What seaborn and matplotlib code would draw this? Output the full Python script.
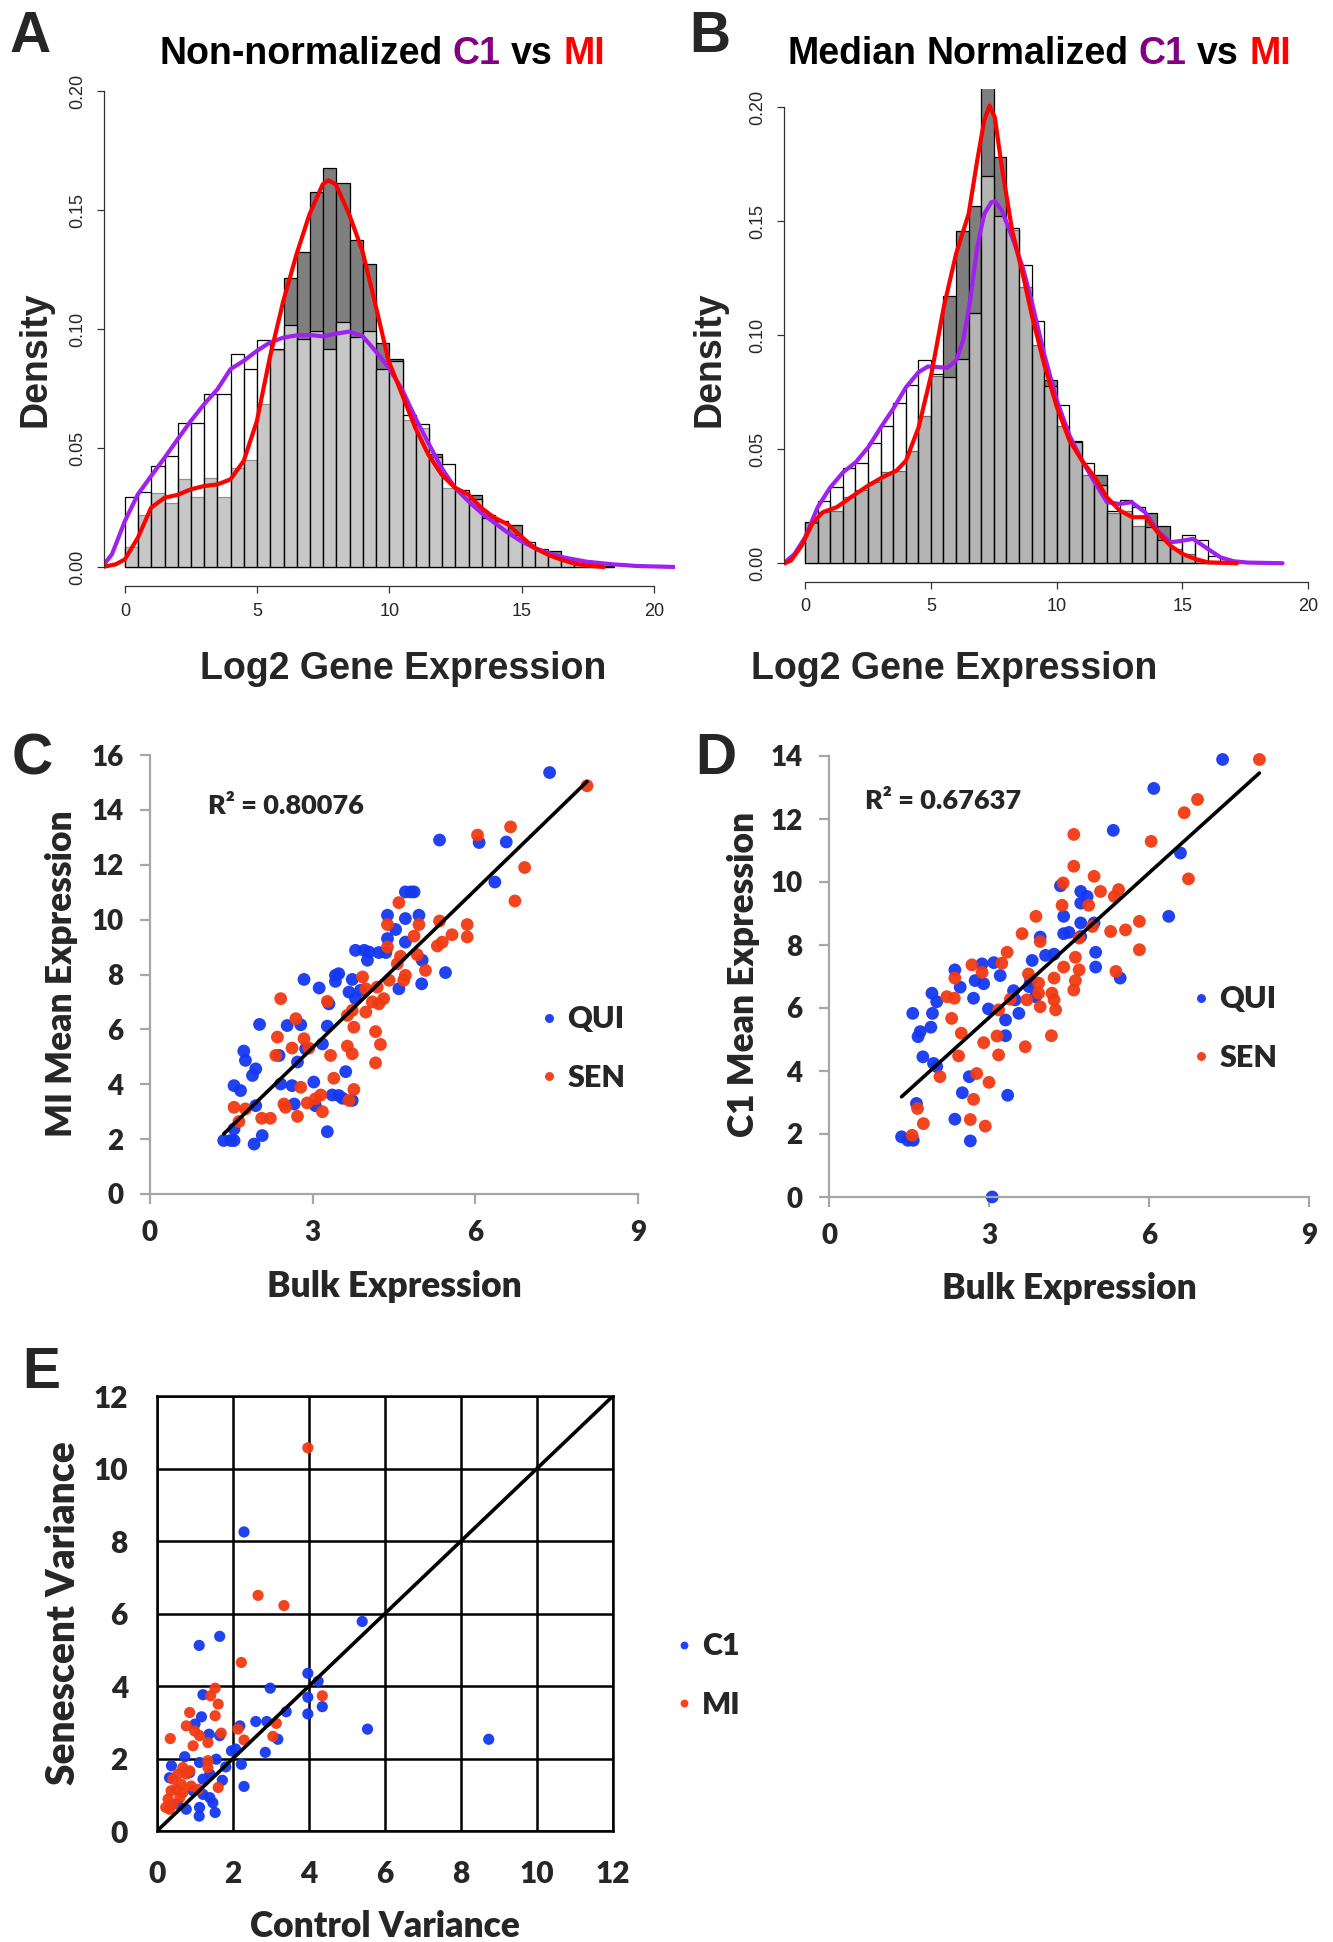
import numpy as np
import pandas as pd
import matplotlib
matplotlib.use("Agg")
import matplotlib.pyplot as plt
import seaborn as sns

# ---------------- data ----------------
BIN_W = 0.5

# Panel A: histogram densities per 0.5-wide bin starting at 0
a_c1_hist = [0.0296, 0.0317, 0.0423, 0.0466, 0.0605, 0.0605, 0.0725, 0.0728, 0.0895, 0.0832,
             0.0952, 0.0916, 0.1017, 0.0959, 0.0993, 0.0916, 0.1029, 0.0968, 0.0993, 0.0832,
             0.0866, 0.0640, 0.0602, 0.0462, 0.0434, 0.0322, 0.0284, 0.0207, 0.0193, 0.0133,
             0.0105, 0.0074, 0.0046, 0.0028, 0.0014, 0.0008, 0.0004]
a_mi_hist = [0.0084, 0.0217, 0.0312, 0.0270, 0.0368, 0.0294, 0.0375, 0.0296, 0.0417, 0.0450,
             0.0683, 0.0910, 0.1216, 0.1325, 0.1576, 0.1676, 0.1612, 0.1374, 0.1272, 0.0941,
             0.0873, 0.0616, 0.0585, 0.0473, 0.0333, 0.0317, 0.0303, 0.0218, 0.0189, 0.0178,
             0.0095, 0.0067, 0.0067, 0.0028, 0.0010, 0.0004, 0.0]

a_c1_kde_x = [-0.84, -0.49, 0.00, 0.49, 0.99, 1.50, 1.99, 2.49, 2.99, 3.50, 3.99, 4.49, 4.99,
              5.48, 5.99, 6.49, 6.98, 7.48, 7.97, 8.48, 8.98, 9.47, 9.97, 10.48, 10.98, 11.47,
              11.97, 12.48, 12.98, 13.47, 13.97, 14.48, 14.97, 15.47, 15.97, 16.46, 16.97,
              17.47, 18.46, 19.37, 20.77]
a_c1_kde_y = [0.0004, 0.0053, 0.0193, 0.0305, 0.0382, 0.0459, 0.0536, 0.0613, 0.0683, 0.0747,
              0.0831, 0.0866, 0.0908, 0.0943, 0.0964, 0.0973, 0.0975, 0.0969, 0.0980, 0.0989,
              0.0971, 0.0908, 0.0838, 0.0746, 0.0627, 0.0522, 0.0417, 0.0333, 0.0277, 0.0228,
              0.0186, 0.0144, 0.0109, 0.0081, 0.0060, 0.0043, 0.0032, 0.0022, 0.0011, 0.0004, 0.0]
a_mi_kde_x = [-0.84, -0.35, 0.00, 0.49, 0.99, 1.50, 1.99, 2.49, 2.99, 3.50, 3.99, 4.49, 4.99,
              5.48, 5.99, 6.49, 6.98, 7.48, 7.69, 7.97, 8.48, 8.98, 9.47, 9.97, 10.48, 10.98,
              11.47, 11.97, 12.48, 12.98, 13.47, 13.97, 14.48, 14.97, 15.47, 15.97, 16.46,
              16.97, 17.47, 18.11]
a_mi_kde_y = [0.0, 0.0011, 0.0032, 0.0123, 0.0249, 0.0291, 0.0303, 0.0326, 0.0340, 0.0347,
              0.0368, 0.0445, 0.0613, 0.0880, 0.1118, 0.1314, 0.1482, 0.1608, 0.1625, 0.1608,
              0.1482, 0.1328, 0.1104, 0.0866, 0.0725, 0.0585, 0.0473, 0.0389, 0.0333, 0.0305,
              0.0249, 0.0207, 0.0179, 0.0130, 0.0081, 0.0053, 0.0032, 0.0015, 0.0006, 0.0]

# Panel B
b_c1_hist = [0.0183, 0.0272, 0.0333, 0.0418, 0.0439, 0.0529, 0.0602, 0.0702, 0.0784, 0.0892,
             0.0830, 0.0816, 0.0896, 0.1096, 0.1700, 0.1522, 0.1470, 0.1308, 0.1064, 0.0779,
             0.0692, 0.0531, 0.0439, 0.0345, 0.0231, 0.0278, 0.0246, 0.0158, 0.0104, 0.0092,
             0.0126, 0.0104, 0.0030, 0.0009]
b_mi_hist = [0.0175, 0.0224, 0.0228, 0.0289, 0.0322, 0.0355, 0.0399, 0.0404, 0.0494, 0.0645,
             0.0820, 0.1174, 0.1459, 0.1569, 0.2150, 0.1781, 0.1460, 0.1211, 0.0959, 0.0804,
             0.0604, 0.0538, 0.0387, 0.0385, 0.0221, 0.0228, 0.0162, 0.0219, 0.0165, 0.0063,
             0.0041, 0.0012, 0.0004, 0.0]

b_c1_kde_x = [-0.81, -0.42, 0.00, 0.50, 1.00, 1.51, 2.01, 2.51, 3.01, 3.50, 4.01, 4.51, 4.88,
              5.30, 5.65, 6.00, 6.28, 6.56, 6.84, 7.12, 7.40, 7.54, 7.82, 8.23, 8.65, 9.00,
              9.50, 10.01, 10.51, 11.01, 11.51, 12.00, 12.51, 12.98, 13.51, 14.01, 14.52,
              15.00, 15.42, 16.01, 16.51, 17.03, 17.59, 18.98]
b_c1_kde_y = [0.0003, 0.0041, 0.0114, 0.0246, 0.0333, 0.0399, 0.0443, 0.0509, 0.0596, 0.0677,
              0.0772, 0.0838, 0.0863, 0.0860, 0.0857, 0.0889, 0.0977, 0.1152, 0.1386, 0.1532,
              0.1583, 0.1588, 0.1547, 0.1430, 0.1298, 0.1152, 0.0918, 0.0713, 0.0560, 0.0450,
              0.0355, 0.0268, 0.0260, 0.0268, 0.0224, 0.0143, 0.0092, 0.0099, 0.0107, 0.0063,
              0.0026, 0.0009, 0.0003, 0.0]
b_mi_kde_x = [-0.81, -0.56, -0.14, 0.28, 0.70, 1.26, 1.81, 2.51, 3.07, 3.63, 4.01, 4.51, 5.02,
              5.51, 6.00, 6.50, 6.84, 7.12, 7.33, 7.54, 7.82, 8.23, 8.65, 9.00, 9.50, 10.01,
              10.51, 11.01, 11.51, 12.00, 12.51, 13.01, 13.54, 14.01, 14.52, 15.00, 15.51,
              16.01, 17.17]
b_mi_kde_y = [0.0, 0.0012, 0.0077, 0.0173, 0.0224, 0.0246, 0.0289, 0.0341, 0.0377, 0.0406,
              0.0450, 0.0596, 0.0830, 0.1123, 0.1357, 0.1532, 0.1766, 0.1942, 0.2007, 0.1956,
              0.1737, 0.1459, 0.1269, 0.1094, 0.0874, 0.0684, 0.0538, 0.0450, 0.0377, 0.0289,
              0.0231, 0.0202, 0.0202, 0.0136, 0.0077, 0.0041, 0.0019, 0.0004, 0.0]

# Panel C: bulk vs MI mean expression
c_qui_x = [7.37, 5.34, 6.07, 6.57, 6.36, 4.71, 4.81, 4.87, 4.38, 4.71, 4.96, 4.53, 4.38, 4.71,
           3.79, 3.95, 4.04, 4.22, 4.35, 4.01, 5.02, 5.45, 2.84, 3.12, 3.42, 3.48, 3.42, 3.73,
           3.88, 3.67, 3.79, 4.59, 5.01, 3.30, 2.53, 2.78, 3.27, 2.02, 1.73, 1.76, 2.38, 1.95,
           1.89, 2.72, 2.87, 3.18, 3.61, 1.55, 1.67, 2.41, 2.62, 3.02, 1.95, 2.66, 3.05, 3.36,
           3.55, 3.27, 1.55, 1.36, 1.49, 1.55, 1.92, 2.07, 3.73, 3.48]
c_qui_y = [15.36, 12.90, 12.81, 12.83, 11.37, 11.01, 11.01, 11.01, 10.16, 10.04, 10.16, 9.64,
           9.31, 9.18, 8.88, 8.88, 8.82, 8.80, 8.80, 8.52, 8.52, 8.07, 7.82, 7.51, 7.97, 8.03,
           7.75, 7.82, 7.42, 7.36, 7.12, 7.48, 7.66, 6.93, 6.14, 6.17, 6.12, 6.18, 5.21, 4.87,
           5.05, 4.56, 4.32, 4.81, 5.29, 5.47, 4.46, 3.95, 3.77, 4.01, 3.95, 4.08, 3.22, 3.28,
           3.22, 3.61, 3.49, 2.27, 2.37, 1.95, 1.95, 1.95, 1.82, 2.13, 3.41, 3.59]
c_sen_x = [8.06, 6.65, 6.04, 6.91, 6.73, 4.59, 4.38, 4.96, 5.34, 5.85, 5.85, 4.87, 5.57, 4.38,
           5.39, 5.30, 4.62, 4.93, 4.56, 5.08, 4.71, 4.68, 3.92, 3.98, 4.19, 4.41, 4.31, 4.10,
           4.22, 3.27, 2.41, 2.69, 3.73, 3.64, 3.76, 3.98, 4.16, 4.25, 4.16, 2.35, 2.84, 2.62,
           2.93, 2.32, 3.33, 3.64, 3.73, 3.39, 2.78, 3.76, 3.67, 2.47, 2.50, 2.90, 3.05, 3.15,
           3.18, 2.72, 2.22, 2.06, 1.76, 1.55, 1.64]
c_sen_y = [14.88, 13.38, 13.08, 11.90, 10.68, 10.62, 9.82, 9.82, 9.95, 9.82, 9.37, 9.40, 9.45,
           9.00, 9.18, 9.04, 8.66, 8.72, 8.39, 8.15, 7.97, 7.79, 7.91, 7.48, 7.54, 7.79, 7.12,
           7.00, 6.93, 7.02, 7.12, 6.39, 6.69, 6.51, 6.08, 6.63, 5.92, 5.45, 4.78, 5.72, 5.66,
           5.32, 5.32, 5.05, 5.05, 5.39, 5.11, 4.22, 3.89, 3.81, 3.41, 3.28, 3.16, 3.32, 3.47,
           3.61, 3.00, 2.83, 2.76, 2.76, 3.10, 3.16, 2.64]

# Panel D: bulk vs C1 mean expression
d_qui_x = [7.38, 6.09, 5.33, 6.59, 6.37, 4.34, 4.72, 4.84, 4.72, 4.40, 4.72, 4.97, 4.40, 4.50,
           4.72, 3.96, 5.00, 4.22, 4.06, 3.81, 5.00, 5.46, 3.09, 2.87, 2.36, 3.21, 2.74, 2.90,
           2.46, 1.93, 2.02, 2.71, 3.46, 3.75, 3.87, 3.56, 1.57, 1.94, 2.99, 3.31, 1.91, 1.71,
           1.67, 3.31, 1.76, 1.96, 2.02, 2.63, 2.50, 3.35, 1.64, 2.36, 2.65, 1.36, 1.48, 1.58,
           3.06, 3.78, 3.49]
d_qui_y = [13.89, 12.97, 11.64, 10.92, 8.91, 9.88, 9.70, 9.54, 9.33, 8.91, 8.70, 8.70, 8.36,
           8.40, 8.27, 8.25, 7.77, 7.71, 7.67, 7.51, 7.30, 6.95, 7.44, 7.40, 7.21, 7.03, 6.87,
           6.77, 6.66, 6.47, 6.20, 6.31, 6.55, 6.68, 6.36, 5.83, 5.83, 5.83, 5.97, 5.62, 5.39,
           5.25, 5.09, 5.12, 4.45, 4.24, 4.14, 3.82, 3.31, 3.23, 2.97, 2.47, 1.78, 1.91, 1.80,
           1.80, 0.0, 6.87, 6.26]
d_sen_x = [8.07, 6.91, 6.66, 6.04, 4.59, 4.59, 6.74, 4.97, 4.39, 5.09, 5.43, 5.35, 4.37, 4.87,
           3.88, 5.82, 5.28, 5.56, 5.82, 3.62, 3.96, 4.94, 4.69, 3.34, 3.24, 2.68, 2.87, 4.62,
           4.40, 4.69, 5.38, 4.62, 4.59, 4.22, 3.74, 3.93, 2.36, 2.21, 2.35, 3.40, 3.71, 3.93,
           3.96, 4.18, 4.22, 4.25, 3.18, 2.30, 2.48, 3.15, 2.90, 3.68, 4.17, 3.18, 2.43, 2.08,
           2.77, 3.00, 2.71, 1.66, 1.77, 2.65, 2.93, 1.56]
d_sen_y = [13.89, 12.62, 12.20, 11.29, 11.51, 10.50, 10.10, 10.18, 9.97, 9.70, 9.76, 9.54, 9.26,
           9.26, 8.91, 8.75, 8.43, 8.48, 7.85, 8.36, 8.11, 8.59, 8.22, 7.77, 7.42, 7.37, 7.13,
           7.61, 7.30, 7.21, 7.16, 6.87, 6.57, 6.95, 7.08, 6.79, 6.95, 6.36, 6.31, 6.28, 6.26,
           6.47, 6.04, 6.47, 6.26, 5.94, 5.94, 5.67, 5.20, 5.11, 4.90, 4.77, 5.12, 4.51, 4.48,
           3.82, 3.92, 3.64, 3.10, 2.81, 2.33, 2.46, 2.25, 1.96]

# Panel E: control vs senescent variance
e_c1_x = [2.29, 5.40, 1.11, 1.65, 3.97, 4.24, 3.97, 4.35, 3.97, 3.40, 2.98, 2.60, 2.89, 3.18,
          2.85, 5.54, 8.73, 2.18, 1.96, 2.07, 2.22, 2.29, 1.81, 1.65, 1.37, 1.21, 1.17, 1.00,
          0.73, 1.12, 1.56, 0.38, 0.33, 0.86, 1.39, 1.72, 1.21, 1.39, 1.47, 1.12, 1.11, 0.77,
          1.53, 0.55, 0.95, 1.21]
e_c1_y = [8.25, 5.78, 5.12, 5.37, 4.35, 4.13, 3.69, 3.43, 3.23, 3.29, 3.94, 3.02, 3.02, 2.53,
          2.17, 2.81, 2.53, 2.90, 2.21, 2.26, 1.84, 1.23, 1.77, 2.63, 2.67, 3.76, 3.15, 2.95,
          2.05, 1.89, 1.98, 1.80, 1.47, 1.61, 1.57, 1.40, 1.43, 0.92, 0.78, 0.65, 0.41, 0.60,
          0.51, 0.74, 1.11, 1.01]
e_mi_x = [3.97, 2.66, 3.34, 2.22, 1.53, 1.41, 1.61, 1.53, 0.86, 0.77, 0.99, 1.12, 1.69, 1.34,
          0.95, 0.35, 2.13, 2.29, 3.14, 3.05, 4.35, 1.34, 1.34, 0.68, 0.55, 0.77, 0.42, 0.86,
          0.90, 1.08, 1.61, 0.51, 0.37, 0.68, 0.29, 0.60, 0.23, 0.33, 0.64, 0.42]
e_mi_y = [10.57, 6.50, 6.22, 4.65, 3.94, 3.73, 3.50, 3.18, 3.27, 2.90, 2.76, 2.63, 2.70, 2.44,
          2.35, 2.55, 2.81, 2.51, 2.97, 2.61, 3.73, 1.94, 1.75, 1.75, 1.57, 1.57, 1.43, 1.66,
          1.24, 1.15, 1.20, 1.15, 1.11, 1.06, 0.88, 0.92, 0.65, 0.60, 1.29, 0.74]

r2_c = "R\u00b2 = 0.80076"
r2_d = "R\u00b2 = 0.67637"

# ---------------- styling ----------------
BLUE = "#1438F0"
RED = "#F23A12"
PURPLE_LINE = "#A020F0"
PURPLE_TXT = "#820082"
GREY_AX = "#A6A6A6"
R_FONT = ["Liberation Sans", "DejaVu Sans"]
X_FONT = ["Lato", "DejaVu Sans"]
X_WEIGHT = "heavy"

sns.set_style("white")
plt.rcParams["font.family"] = R_FONT

W, H = 1333, 1942
fig = plt.figure(figsize=(W / 100, H / 100), dpi=100)


def px_axes(left, right, bottom, top):
    return fig.add_axes([left / W, 1 - bottom / H, (right - left) / W, (bottom - top) / H])


def ftext(x, y, s, **kw):
    return fig.text(x / W, 1 - y / H, s, **kw)


renderer = fig.canvas.get_renderer()


def text_width(s, **kw):
    t = fig.text(0, 0, s, **kw)
    w = t.get_window_extent(renderer).width
    t.remove()
    return w


def colored_title(cx, y, words, colors, **kw):
    full = " ".join(words)
    x0 = cx - text_width(full, **kw) / 2
    for k, (w, c) in enumerate(zip(words, colors)):
        off = 0 if k == 0 else text_width(" ".join(words[:k]) + " " + w, **kw) - text_width(w, **kw)
        ftext(x0 + off, y, w, color=c, ha="left", va="baseline", **kw)


def hist_panel(ax, c1, mi, kx1, ky1, kx2, ky2, light_alpha, xlim):
    edges = (np.arange(len(c1) + 1) * BIN_W).tolist()
    bins = pd.DataFrame({"mid": np.array(edges[:-1]) + BIN_W / 2, "c1": c1, "mi": mi})
    sns.histplot(data=bins, x="mid", weights="mi", bins=edges, stat="count", color="#7f7f7f",
                 alpha=1, edgecolor="black", linewidth=0.9, ax=ax)
    sns.histplot(data=bins, x="mid", weights="c1", bins=edges, stat="count", color="white",
                 alpha=light_alpha, edgecolor="black", linewidth=0.9, ax=ax)
    sns.lineplot(x=kx1, y=ky1, color=PURPLE_LINE, lw=3, sort=False, estimator=None, ax=ax)
    sns.lineplot(x=kx2, y=ky2, color="red", lw=3, sort=False, estimator=None, ax=ax)
    ax.set_xlim(*xlim)
    ax.set_ylim(-0.008, 0.208)
    ax.set_xlabel("")
    ax.set_ylabel("")
    for s in ["top", "right"]:
        ax.spines[s].set_visible(False)
    for s in ["left", "bottom"]:
        ax.spines[s].set_color("#333333")
        ax.spines[s].set_linewidth(0.9)
    ax.spines["left"].set_bounds(0, 0.2)
    ax.spines["bottom"].set_bounds(0, 20)
    ax.set_xticks([0, 5, 10, 15, 20])
    ax.set_yticks([0, 0.05, 0.10, 0.15, 0.20])
    ax.set_yticklabels(["0.00", "0.05", "0.10", "0.15", "0.20"])
    ax.tick_params(direction="out", length=5, width=0.9, color="#333333",
                   labelsize=13, pad=7, left=True, bottom=True)
    ax.tick_params(axis="y", labelrotation=90, pad=8)
    for lbl in ax.get_yticklabels():
        lbl.set_va("center")


def excel_axes(ax, xmax, ymax, ystep):
    ax.set_xlim(0, xmax)
    ax.set_ylim(0, ymax)
    ax.set_xticks(np.arange(0, xmax + 1, 3))
    ax.set_yticks(np.arange(0, ymax + 1, ystep))
    for s in ["top", "right"]:
        ax.spines[s].set_visible(False)
    for s in ["left", "bottom"]:
        ax.spines[s].set_color(GREY_AX)
        ax.spines[s].set_linewidth(1.6)
    ax.tick_params(direction="out", length=7, width=1.6, color=GREY_AX, pad=12,
                   left=True, bottom=True)
    for lbl in ax.get_xticklabels() + ax.get_yticklabels():
        lbl.set_fontfamily(X_FONT)
        lbl.set_fontweight(X_WEIGHT)
        lbl.set_fontsize(20)
    ax.set_xlabel("")
    ax.set_ylabel("")


def scatter_panel(ax, qx, qy, sx, sy, labels, colors, size, legend_xy):
    df = pd.DataFrame({
        "x": qx + sx,
        "y": qy + sy,
        "group": [labels[0]] * len(qx) + [labels[1]] * len(sx),
    })
    sns.scatterplot(data=df, x="x", y="y", hue="group", palette=dict(zip(labels, colors)),
                    s=size, linewidth=0, alpha=0.95, ax=ax)
    for coll in ax.collections:
        coll.set_clip_on(False)
    sns.move_legend(ax, "upper left", bbox_to_anchor=(legend_xy[0] / W, 1 - legend_xy[1] / H),
                    bbox_transform=fig.transFigure, frameon=False, title=None,
                    prop={"family": X_FONT, "weight": X_WEIGHT, "size": 22},
                    handlelength=0.5, handletextpad=0.35, labelspacing=1.0, borderpad=0,
                    markerscale=0.7)
    return df


# ---------------- panel A ----------------
axA = px_axes(104, 675, 586, 72)
hist_panel(axA, a_c1_hist, a_mi_hist, a_c1_kde_x, a_c1_kde_y, a_mi_kde_x, a_mi_kde_y,
           0.57, (-0.79, 20.8))

# ---------------- panel B ----------------
axB = px_axes(784, 1309.5, 581.5, 89)
hist_panel(axB, b_c1_hist, b_mi_hist, b_c1_kde_x, b_c1_kde_y, b_mi_kde_x, b_mi_kde_y,
           0.42, (-0.84, 20.05))

title_kw = dict(fontsize=27, fontweight="bold", family=R_FONT)
colored_title(382, 64, ["Non-normalized", "C1", "vs", "MI"],
              ["black", PURPLE_TXT, "black", "red"], **title_kw)
colored_title(1039, 64, ["Median", "Normalized", "C1", "vs", "MI"],
              ["black", "black", PURPLE_TXT, "black", "red"], **title_kw)
for cx in (403, 954):
    ftext(cx, 679, "Log2 Gene Expression", ha="center", va="baseline", **title_kw)
for cx in (35, 710):
    ftext(cx, 359, "Density", ha="center", va="center", rotation=90, **title_kw)

# ---------------- panel C ----------------
axC = px_axes(150, 638, 1194, 755)
dfC = scatter_panel(axC, c_qui_x, c_qui_y, c_sen_x, c_sen_y, ["QUI", "SEN"], [BLUE, RED], 85,
                    (526, 990))
sns.regplot(data=dfC, x="x", y="y", scatter=False, ci=None, color="black",
            line_kws={"lw": 2.6}, ax=axC)
excel_axes(axC, 9, 16, 2)

# ---------------- panel D ----------------
axD = px_axes(829, 1309, 1197, 756)
dfD = scatter_panel(axD, d_qui_x, d_qui_y, d_sen_x, d_sen_y, ["QUI", "SEN"], [BLUE, RED], 85,
                    (1178, 970))
sns.regplot(data=dfD, x="x", y="y", scatter=False, ci=None, color="black",
            line_kws={"lw": 2.6}, ax=axD)
excel_axes(axD, 9, 14, 2)

xl_kw = dict(family=X_FONT, fontweight=X_WEIGHT)
ftext(208, 806, r2_c, ha="left", va="center", fontsize=19.5, **xl_kw)
ftext(865, 801, r2_d, ha="left", va="center", fontsize=19.5, **xl_kw)
ftext(394, 1286, "Bulk Expression", ha="center", va="center", fontsize=25.5, **xl_kw)
ftext(1069, 1288, "Bulk Expression", ha="center", va="center", fontsize=25.5, **xl_kw)
ftext(62, 974, "MI Mean Expression", ha="center", va="center", rotation=90, fontsize=25.5, **xl_kw)
ftext(743, 974, "C1 Mean Expression", ha="center", va="center", rotation=90, fontsize=25.5, **xl_kw)

# ---------------- panel E ----------------
axE = px_axes(157, 613, 1831, 1396)
scatter_panel(axE, e_c1_x, e_c1_y, e_mi_x, e_mi_y, ["C1", "MI"], [BLUE, RED], 65,
              (661, 1617))
axE.axline((0, 0), slope=1, color="black", lw=2.6, zorder=3)
axE.set_xlim(0, 12)
axE.set_ylim(0, 12)
axE.set_xticks(np.arange(0, 13, 2))
axE.set_yticks(np.arange(0, 13, 2))
axE.grid(True, color="black", lw=1.8)
axE.set_axisbelow(True)
for s in axE.spines.values():
    s.set_visible(True)
    s.set_color("black")
    s.set_linewidth(1.8)
axE.tick_params(length=0, pad=21)
for lbl in axE.get_xticklabels() + axE.get_yticklabels():
    lbl.set_fontfamily(X_FONT)
    lbl.set_fontweight(X_WEIGHT)
    lbl.set_fontsize(21.5)
axE.set_xlabel("")
axE.set_ylabel("")
ftext(64, 1613, "Senescent Variance", ha="center", va="center", rotation=90, fontsize=28, **xl_kw)
ftext(385, 1926, "Control Variance", ha="center", va="center", fontsize=25.5, **xl_kw)

# ---------------- panel letters ----------------
letter_kw = dict(fontsize=41, fontweight="bold", family=R_FONT, ha="left", va="baseline")
ftext(10, 52, "A", **letter_kw)
ftext(689, 52, "B", **letter_kw)
ftext(12, 774, "C", **letter_kw)
ftext(695, 774, "D", **letter_kw)
ftext(22, 1388, "E", **letter_kw)

fig.savefig("out.png", dpi=100)
